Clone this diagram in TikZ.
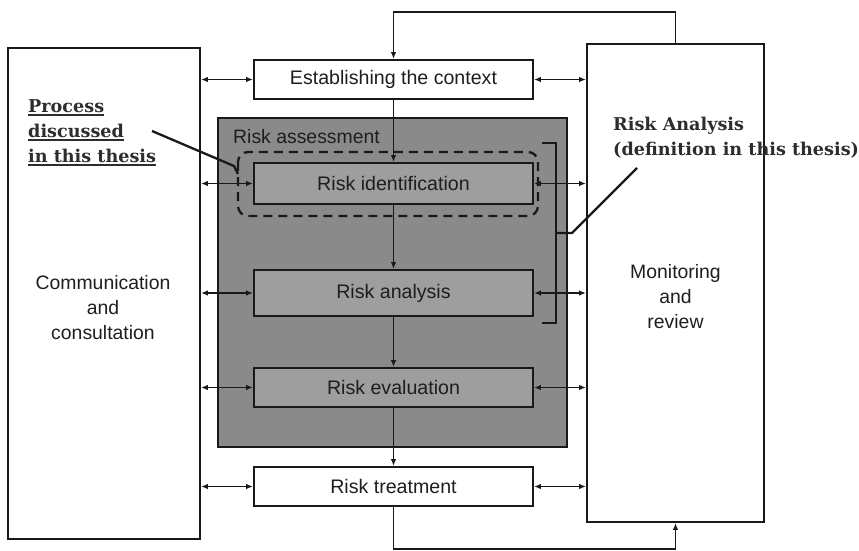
\documentclass[tikz,border=0pt]{standalone}
\usepackage{fontspec}
\setmainfont{Liberation Sans}
\newfontfamily\notefont{DejaVu Serif}
\usetikzlibrary{arrows.meta,calc}
\definecolor{assessgray}{RGB}{138,138,138}
\definecolor{stepgray}{RGB}{158,158,158}
\definecolor{inkgray}{RGB}{30,30,30}
\definecolor{notegray}{RGB}{45,45,45}
% underline with a heavier rule than \underline gives
\newcommand{\heavyul}[1]{\leavevmode\setbox0\hbox{#1}\rlap{\rule[-3.5pt]{\wd0}{1.2pt}}\box0}
\tikzset{
  x=1pt, y=-1pt,
  every node/.style={text=inkgray},
  outline/.style={draw=black!90, line width=1.9pt},
  bigbox/.style={outline, fill=white, rectangle, inner sep=0pt},
  stepbox/.style={outline, rectangle, inner sep=0pt, minimum width=279pt,
    font=\fontsize{19.6}{23}\selectfont},
  plainstep/.style={stepbox, fill=white},
  greystep/.style={stepbox, fill=stepgray},
  sidetext/.style={align=center, font=\fontsize{19.4}{25}\selectfont},
  link/.style={black!90, line width=1.9pt, -{Latex[length=7pt,width=5.5pt]}},
  dlink/.style={black!90, line width=1.9pt, {Latex[length=7pt,width=5.5pt]}-{Latex[length=7pt,width=5.5pt]}},
  dashbox/.style={black!90, line width=2.3pt, dashed, dash pattern=on 9pt off 6pt, rounded corners=10pt},
  bracket/.style={black!90, line width=2.5pt},
  pointer/.style={black!90, line width=2.3pt},
  note/.style={text=notegray, align=left, inner sep=0pt,
    font=\notefont\bfseries\fontsize{17.6}{25}\selectfont},
}
\begin{document}
\begin{tikzpicture}
  \useasboundingbox (0,0) rectangle (859,551);
  \fill[white] (0,0) rectangle (859,551);

  % side boxes
  \node[bigbox, minimum width=192pt, minimum height=491pt] (comm) at (104,293.5) {};
  \node[sidetext] (commtxt) at (103,308) {Communication\\and\\consultation};
  \node[bigbox, minimum width=177pt, minimum height=478pt] (mon) at (675.5,283) {};
  \node[sidetext] (montxt) at (675.5,297) {Monitoring\\and\\review};

  % risk assessment block
  \draw[outline, fill=assessgray] (218,118) rectangle (567,447);
  \node[anchor=base west, inner sep=0pt, font=\fontsize{19.4}{23}\selectfont] (assesstxt) at (233,143) {Risk assessment};

  % process steps
  \node[plainstep, minimum height=39pt] (ctx) at (393.5,79.5) {Establishing the context};
  \node[greystep, minimum height=41pt] (ident) at (393.5,183.5) {Risk identification};
  \node[greystep, minimum height=46pt] (anal) at (393.5,293) {Risk analysis};
  \node[greystep, minimum height=39pt] (eval) at (393.5,387.5) {Risk evaluation};
  \node[plainstep, minimum height=39pt] (treat) at (393.5,486.5) {Risk treatment};

  % main flow
  \coordinate (topy) at (393.5,12);
  \coordinate (boty) at (393.5,549);
  \draw[link] (mon.north) |- (topy -| ctx.north) -- (ctx.north);
  \draw[link] (ctx) -- (ident);
  \draw[link] (ident) -- (anal);
  \draw[link] (anal) -- (eval);
  \draw[link] (eval) -- (treat);
  \draw[link] (treat.south) |- (boty -| mon.south) -- (mon.south);

  % exchanges with the side boxes
  \foreach \s in {ctx,ident,anal,eval,treat}{
    \draw[dlink] (comm.east |- \s.west) -- (\s.west);
    \draw[dlink] (\s.east) -- (mon.west |- \s.east);
  }

  % highlighted scope of the thesis
  \coordinate (dashA) at (238,152);
  \coordinate (dashB) at (538,216);
  \draw[dashbox] (dashA) rectangle (dashB);
  \coordinate (brA) at (542,143);
  \coordinate (brB) at (556,143);
  \coordinate (brC) at (556,323);
  \coordinate (brD) at (542,323);
  \draw[bracket] (brA) -- (brB) -- (brC) -- (brD);

  % annotations
  \node[note, anchor=north west] (procnote) at (28,99)
    {\heavyul{Process}\\\heavyul{discussed}\\\heavyul{in this thesis}};
  \coordinate (pA) at (152,131);
  \coordinate (pB) at (234,166);
  \coordinate (pC) at (238,174);
  \draw[pointer] (pA) -- (pB) -- (pC);

  \node[note, anchor=north west] (ranote) at (613,117)
    {Risk Analysis\\(definition in this thesis)};
  \coordinate (rA) at (556,233);
  \coordinate (rB) at (572,233);
  \coordinate (rC) at (637,168);
  \draw[pointer] (rA) -- (rB) -- (rC);
\end{tikzpicture}
\end{document}
